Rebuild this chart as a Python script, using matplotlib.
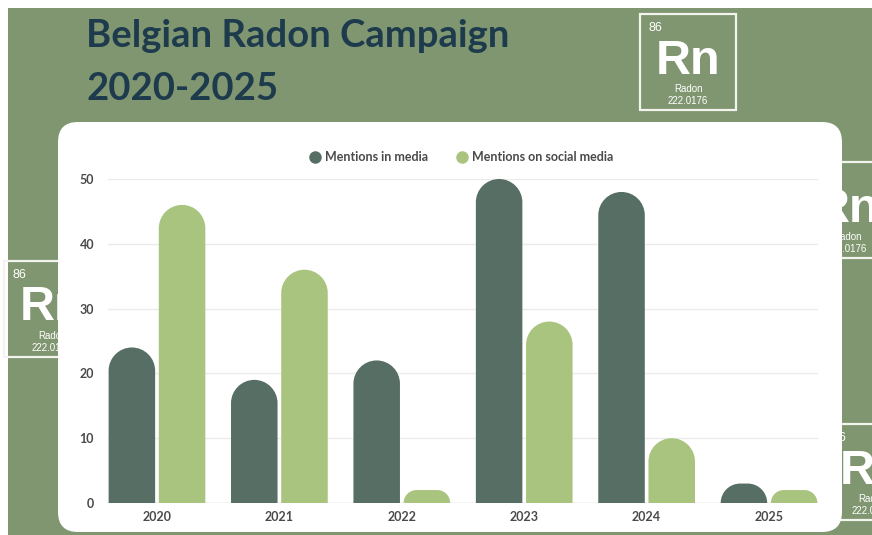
import matplotlib
matplotlib.use("Agg")
import matplotlib.pyplot as plt
from matplotlib.path import Path
from matplotlib.patches import PathPatch, FancyBboxPatch, Rectangle
from matplotlib.lines import Line2D

# ---- data ----
years = ["2020", "2021", "2022", "2023", "2024", "2025"]
media_mentions = [24, 19, 22, 50, 48, 3]
social_mentions = [46, 36, 2, 28, 10, 2]
series_labels = ["Mentions in media", "Mentions on social media"]
y_ticks = [0, 10, 20, 30, 40, 50]

# ---- style ----
W, H = 872, 535
BG_GREEN = "#7f9670"
TITLE_COL = "#1d3b4c"
MEDIA_COL = "#566e63"
SOCIAL_COL = "#a9c47e"
TICK_COL = "#4a4a4a"
GRID_COL = "#ebebeb"
FONT = "Lato"
TILE_FONT = "Liberation Sans"

fig = plt.figure(figsize=(W / 100, H / 100), dpi=100)
fig.patch.set_facecolor("white")

# background layer in pixel coordinates
bg = fig.add_axes([0, 0, 1, 1], zorder=0)
bg.set_xlim(0, W)
bg.set_ylim(H, 0)
bg.axis("off")
bg.add_patch(Rectangle((8, 8), W, H, facecolor=BG_GREEN, edgecolor="none"))


def element_tile(ax, left, top, size=96):
    ax.add_patch(Rectangle((left, top), size, size, facecolor="none",
                           edgecolor="#f4f4ee", linewidth=1.6))
    cx = left + size / 2
    ax.text(left + 8, top + 14, "86", color="white", fontsize=9,
            family=TILE_FONT, va="center", ha="left")
    ax.text(cx, top + 47, "Rn", color="white", fontsize=35,
            family=TILE_FONT, weight="bold", va="center", ha="center")
    ax.text(cx, top + 75, "Radon", color="white", fontsize=7,
            family=TILE_FONT, va="center", ha="center")
    ax.text(cx, top + 87, "222.0176", color="white", fontsize=7,
            family=TILE_FONT, va="center", ha="center")


element_tile(bg, 640, 14)
element_tile(bg, 4, 261)
element_tile(bg, 799, 162)
element_tile(bg, 824, 424)

# white card behind the chart
bg.add_patch(FancyBboxPatch((58, 122), 784, 410,
                            boxstyle="round,pad=0,rounding_size=20",
                            facecolor="white", edgecolor="none", zorder=5))

bg.text(86, 36, "Belgian Radon Campaign", color=TITLE_COL, fontsize=27.5,
        family=FONT, weight="bold", va="center", ha="left", zorder=6)
bg.text(86, 89, "2020-2025", color=TITLE_COL, fontsize=27.5,
        family=FONT, weight="bold", va="center", ha="left", zorder=6)

# ---- chart axes ----
ax_left, ax_right, ax_bottom, ax_top = 108, 818, 503, 179
ax = fig.add_axes([ax_left / W, 1 - ax_bottom / H,
                   (ax_right - ax_left) / W, (ax_bottom - ax_top) / H], zorder=2)
ax.set_facecolor("none")
xmin, xmax = -0.4, 5.4
ymin, ymax = 0, 50
ax.set_xlim(xmin, xmax)
ax.set_ylim(ymin, ymax)
px_x = (ax_right - ax_left) / (xmax - xmin)
px_y = (ax_bottom - ax_top) / (ymax - ymin)

bar_w = 0.38
offset = 0.205
K = 0.5523


def rounded_bar(xc, h, color):
    """Bar with rounded top corners, radius capped by width and height."""
    x0, x1 = xc - bar_w / 2, xc + bar_w / 2
    r_px = min(bar_w * px_x / 2, h * px_y)
    rx, ry = r_px / px_x, r_px / px_y
    verts = [
        (x0, 0), (x0, h - ry),
        (x0, h - ry + K * ry), (x0 + rx - K * rx, h), (x0 + rx, h),
        (x1 - rx, h),
        (x1 - rx + K * rx, h), (x1, h - ry + K * ry), (x1, h - ry),
        (x1, 0), (x0, 0),
    ]
    codes = [Path.MOVETO, Path.LINETO,
             Path.CURVE4, Path.CURVE4, Path.CURVE4,
             Path.LINETO,
             Path.CURVE4, Path.CURVE4, Path.CURVE4,
             Path.LINETO, Path.CLOSEPOLY]
    ax.add_patch(PathPatch(Path(verts, codes), facecolor=color,
                           edgecolor="none", zorder=3, clip_on=False))


for i, (m, s) in enumerate(zip(media_mentions, social_mentions)):
    rounded_bar(i - offset, m, MEDIA_COL)
    rounded_bar(i + offset, s, SOCIAL_COL)

ax.set_yticks(y_ticks)
ax.set_xticks(range(len(years)))
ax.set_xticklabels(years)
ax.grid(axis="y", color=GRID_COL, linewidth=1)
ax.set_axisbelow(True)
for sp in ax.spines.values():
    sp.set_visible(False)
ax.axhline(0, color="#dcdcdc", linewidth=1, zorder=1)
ax.tick_params(length=0, labelcolor=TICK_COL, labelsize=9)
ax.tick_params(axis="y", pad=10)
ax.tick_params(axis="x", pad=6)
for lab in ax.get_xticklabels() + ax.get_yticklabels():
    lab.set_family(FONT)
    lab.set_weight("bold")

handles = [Line2D([], [], marker="o", linestyle="none", markersize=9,
                  markerfacecolor=c, markeredgecolor="none")
           for c in (MEDIA_COL, SOCIAL_COL)]
leg = fig.legend(handles, series_labels, loc="center",
                 bbox_to_anchor=(461 / W, 1 - 157 / H), ncol=2, frameon=False,
                 handletextpad=0.3, columnspacing=2.2, handlelength=1.0,
                 prop={"family": FONT, "size": 9, "weight": "bold"})
for t in leg.get_texts():
    t.set_color(TICK_COL)
leg.set_zorder(4)

fig.savefig("out.png", dpi=100, facecolor=fig.get_facecolor())
